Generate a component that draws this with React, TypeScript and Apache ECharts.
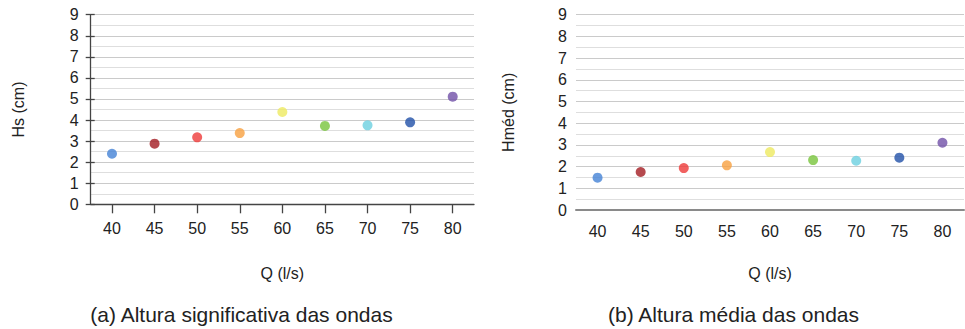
import React, { useEffect, useRef } from "react";
import * as echarts from "echarts";

const categories = ["40", "45", "50", "55", "60", "65", "70", "75", "80"];
const hsValues = [2.4, 2.88, 3.18, 3.38, 4.38, 3.72, 3.75, 3.89, 5.11];
const hmedValues = [1.49, 1.75, 1.93, 2.06, 2.67, 2.3, 2.27, 2.41, 3.1];
const pointColors = ["#4482d6", "#a31c22", "#ee3a38", "#f8a040", "#eeea60", "#78c43c", "#6cd0e0", "#2050a8", "#7050a8"];
const yTicks = [0, 9, 1];
const titles = ["Hs (cm)", "Hméd (cm)"];
const xName = "Q (l/s)";
const captions = ["(a) Altura significativa das ondas", "(b) Altura média das ondas"];

const FONT = "Liberation Sans, Arial, sans-serif";

export default function App() {
  const ref = useRef<HTMLDivElement>(null);
  useEffect(() => {
    if (!ref.current) return;
    const chart = echarts.init(ref.current, null, { renderer: "svg" });
    const [ymin, ymax, yint] = yTicks;
    const labelStyle = { color: "#222", fontSize: 16, fontFamily: FONT };
    const nameStyle = { color: "#222", fontSize: 16, fontFamily: FONT };
    const mkData = (vals: number[]) =>
      vals.map((v, i) => ({ value: v, itemStyle: { color: pointColors[i] } }));
    chart.setOption({
      animation: false,
      textStyle: { fontFamily: FONT },
      grid: [
        { left: 90.7, right: 491, top: 14.7, bottom: 124.7 },
        { left: 576, right: 1, top: 14.7, bottom: 119 },
      ],
      xAxis: [
        {
          type: "category",
          gridIndex: 0,
          data: categories,
          boundaryGap: true,
          axisLine: { lineStyle: { color: "#444", width: 1.3 } },
          axisTick: { show: true, alignWithLabel: true, length: 9, lineStyle: { color: "#444", width: 1.3 } },
          axisLabel: { ...labelStyle, margin: 16 },
          name: xName,
          nameLocation: "middle",
          nameGap: 61,
          nameTextStyle: nameStyle,
        },
        {
          type: "category",
          gridIndex: 1,
          data: categories,
          boundaryGap: true,
          axisLine: { lineStyle: { color: "#8a8a8a", width: 2 } },
          axisTick: { show: false },
          axisLabel: { ...labelStyle, margin: 13 },
          name: xName,
          nameLocation: "middle",
          nameGap: 55,
          nameTextStyle: nameStyle,
        },
      ],
      yAxis: [
        {
          type: "value",
          gridIndex: 0,
          min: ymin,
          max: ymax,
          interval: yint,
          axisLine: { show: true, lineStyle: { color: "#444", width: 1.3 } },
          axisTick: { show: true, length: 5, lineStyle: { color: "#444", width: 1.3 } },
          axisLabel: { ...labelStyle, margin: 12 },
          splitLine: { show: true, lineStyle: { color: "#cacaca", width: 1.2 } },
          minorTick: { show: false, splitNumber: 2 },
          minorSplitLine: { show: true, lineStyle: { color: "#dedede", width: 1 } },
          name: titles[0],
          nameLocation: "middle",
          nameRotate: 90,
          nameGap: 64,
          nameTextStyle: nameStyle,
        },
        {
          type: "value",
          gridIndex: 0,
          position: "left",
          min: ymin,
          max: ymax,
          interval: yint,
          axisLine: { show: false },
          axisTick: { show: true, inside: true, length: 4, lineStyle: { color: "#444", width: 1.3 } },
          axisLabel: { show: false },
          splitLine: { show: false },
        },
        {
          type: "value",
          gridIndex: 1,
          min: ymin,
          max: ymax,
          interval: yint,
          axisLine: { show: false },
          axisTick: { show: false },
          axisLabel: { ...labelStyle, margin: 9 },
          splitLine: { show: true, lineStyle: { color: "#cacaca", width: 1.2 } },
          minorTick: { show: false, splitNumber: 2 },
          minorSplitLine: { show: true, lineStyle: { color: "#dedede", width: 1 } },
          name: titles[1],
          nameLocation: "middle",
          nameRotate: 90,
          nameGap: 60,
          nameTextStyle: nameStyle,
        },
      ],
      series: [
        {
          type: "scatter",
          xAxisIndex: 0,
          yAxisIndex: 0,
          symbolSize: 10,
          data: mkData(hsValues),
        },
        {
          type: "scatter",
          xAxisIndex: 1,
          yAxisIndex: 2,
          symbolSize: 10,
          data: mkData(hmedValues),
        },
      ],
      graphic: [
        {
          type: "text",
          x: 241.5,
          y: 314,
          style: { text: captions[0], fontSize: 21, fontFamily: FONT, fill: "#222", align: "center", verticalAlign: "middle" },
        },
        {
          type: "text",
          x: 733.5,
          y: 314,
          style: { text: captions[1], fontSize: 21, fontFamily: FONT, fill: "#222", align: "center", verticalAlign: "middle" },
        },
      ],
    });
    return () => chart.dispose();
  }, []);
  return (
    <div
      ref={ref}
      style={{ position: "fixed", left: 0, top: 0, width: 965, height: 329, background: "#fff" }}
    />
  );
}
